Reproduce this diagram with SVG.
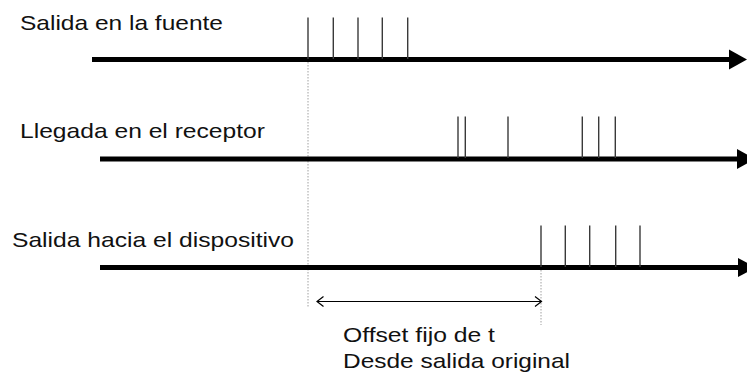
<svg xmlns="http://www.w3.org/2000/svg" width="747" height="376" viewBox="0 0 747 376">
<style>
.lbl{font-family:"Liberation Sans",Arial,sans-serif;font-size:21px;fill:#111}
.axis{stroke:#000;stroke-width:5;fill:none}
.head{fill:#000}
.tick{stroke:#3a3a3a;stroke-width:1.4}
.guide{stroke:#a0a0a0;stroke-width:1;stroke-dasharray:1.5,1.5}
.dim{stroke:#000;stroke-width:1.2;fill:none}
</style>
<rect width="747" height="376" fill="#fff"/>
<g id="connectors">
<line class="guide" x1="308" y1="62" x2="308" y2="307"/>
<line class="guide" x1="541" y1="270" x2="541" y2="325"/>
<line class="dim" x1="317" y1="301.5" x2="541.5" y2="301.5"/>
<polyline class="dim" points="323.5,296.5 317,301.5 323.5,306.5"/>
<polyline class="dim" points="535,296.5 541.5,301.5 535,306.5"/>
</g>
<g id="fuente">
<text class="lbl" x="20" y="29.5" textLength="203" lengthAdjust="spacingAndGlyphs">Salida en la fuente</text>
<line class="axis" x1="92" y1="59.5" x2="731" y2="59.5"/>
<polygon class="head" points="729,49.5 747,59.5 729,69.5"/>
<line class="tick" x1="308" y1="17.5" x2="308" y2="59"/>
<line class="tick" x1="333.3" y1="17.5" x2="333.3" y2="59"/>
<line class="tick" x1="358" y1="17.5" x2="358" y2="59"/>
<line class="tick" x1="382.3" y1="17.5" x2="382.3" y2="59"/>
<line class="tick" x1="407.7" y1="17.5" x2="407.7" y2="59"/>
</g>
<g id="receptor">
<text class="lbl" x="20" y="137.5" textLength="245" lengthAdjust="spacingAndGlyphs">Llegada en el receptor</text>
<line class="axis" x1="100" y1="159" x2="740" y2="159"/>
<polygon class="head" points="737,149 755,159 737,169"/>
<line class="tick" x1="458" y1="116.5" x2="458" y2="158"/>
<line class="tick" x1="465.3" y1="116.5" x2="465.3" y2="158"/>
<line class="tick" x1="508" y1="116.5" x2="508" y2="158"/>
<line class="tick" x1="582.3" y1="116.5" x2="582.3" y2="158"/>
<line class="tick" x1="598.7" y1="116.5" x2="598.7" y2="158"/>
<line class="tick" x1="615.3" y1="116.5" x2="615.3" y2="158"/>
</g>
<g id="dispositivo">
<text class="lbl" x="12" y="246.5" textLength="282" lengthAdjust="spacingAndGlyphs">Salida hacia el dispositivo</text>
<line class="axis" x1="100" y1="267.5" x2="740" y2="267.5"/>
<polygon class="head" points="738,258 756,267.5 738,277"/>
<line class="tick" x1="541" y1="225.5" x2="541" y2="267"/>
<line class="tick" x1="565.3" y1="225.5" x2="565.3" y2="267"/>
<line class="tick" x1="589.7" y1="225.5" x2="589.7" y2="267"/>
<line class="tick" x1="615.7" y1="225.5" x2="615.7" y2="267"/>
<line class="tick" x1="640" y1="225.5" x2="640" y2="267"/>
</g>
<g id="offset-label">
<text class="lbl" x="343" y="342" textLength="152" lengthAdjust="spacingAndGlyphs">Offset fijo de t</text>
<text class="lbl" x="343" y="368" textLength="227" lengthAdjust="spacingAndGlyphs">Desde salida original</text>
</g>
</svg>
